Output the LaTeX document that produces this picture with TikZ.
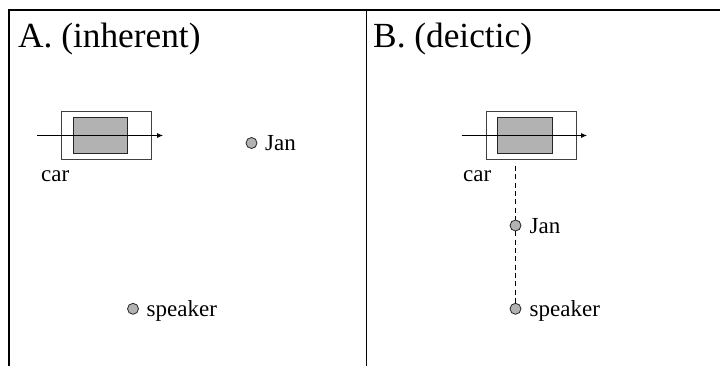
\documentclass[tikz,border=0pt]{standalone}
\usepackage{fontspec}
\setmainfont{Liberation Serif}
\usetikzlibrary{arrows.meta}
\begin{document}
\begin{tikzpicture}[x=1pt,y=-1pt,
  title/.style={anchor=base west,inner sep=0pt,font=\fontsize{35.3}{42}\selectfont},
  lbl/.style={anchor=base west,inner sep=0pt,font=\fontsize{23}{27}\selectfont},
  dot/.style={circle,draw=black!85,line width=0.8pt,fill=gray!60,minimum size=11pt,inner sep=0pt},
  carouter/.style={rectangle,draw=black!75,line width=0.8pt,minimum width=90pt,minimum height=48pt,inner sep=0pt},
  carinner/.style={rectangle,draw=black!85,line width=0.9pt,fill=gray!60,minimum width=54.5pt,minimum height=36pt,inner sep=0pt},
  movearrow/.style={line width=0.8pt,-{Latex[length=6pt,width=5pt]}},
  link/.style={line width=1.1pt,dash pattern=on 5pt off 3.3pt},
  frame/.style={line width=2pt},
  divider/.style={line width=1.2pt}]
\useasboundingbox (0,0) rectangle (720,366);
% frame
\coordinate (tl) at (8,10);
\coordinate (tr) at (720,10);
\coordinate (lt) at (9,9);
\coordinate (lb) at (9,366);
\coordinate (mt) at (366.5,10);
\coordinate (mb) at (366.5,366);
\draw[frame] (tl) -- (tr);
\draw[frame] (lt) -- (lb);
\draw[divider] (mt) -- (mb);
% titles
\node[title] (titleA) at (18,48) {A. (inherent)};
\node[title] (titleB) at (373,48) {B. (deictic)};
% panel A
\node[carouter] (carA) at (106.7,135.8) {};
\node[carinner] (carAin) at (100.5,135.3) {};
\coordinate (arAs) at (37,135.5);
\coordinate (arAe) at (163,135.5);
\draw[movearrow] (arAs) -- (arAe);
\node[lbl] (carAlbl) at (41,182) {car};
\node[dot] (janA) at (251.5,143) {};
\node[lbl] (janAlbl) at (265,151) {Jan};
\node[dot] (spkA) at (133,308.8) {};
\node[lbl] (spkAlbl) at (146.5,316.5) {speaker};
% panel B
\node[carouter] (carB) at (531,135.8) {};
\node[carinner] (carBin) at (524.8,135.3) {};
\coordinate (arBs) at (461.5,135.5);
\coordinate (arBe) at (587,135.5);
\draw[movearrow] (arBs) -- (arBe);
\node[lbl] (carBlbl) at (463,182) {car};
\node[dot] (janB) at (515.5,225.5) {};
\node[lbl] (janBlbl) at (529.5,233.5) {Jan};
\node[dot] (spkB) at (515.5,308.8) {};
\node[lbl] (spkBlbl) at (529.5,316.5) {speaker};
\draw[link] ([yshift=-6pt]janB |- carB.south) -- (janB.north);
\draw[link] (janB.south) -- (spkB.north);
\end{tikzpicture}
\end{document}
